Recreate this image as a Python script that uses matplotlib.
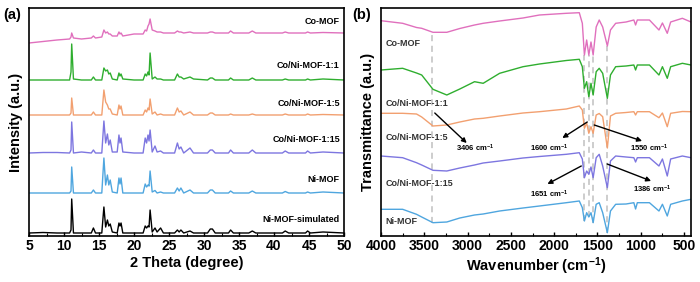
import matplotlib
matplotlib.use("Agg")
import matplotlib.pyplot as plt

plt.rcParams['font.family'] = ['Liberation Sans', 'DejaVu Sans']
plt.rcParams['font.weight'] = 'bold'
plt.rcParams['axes.labelweight'] = 'bold'
plt.rcParams['mathtext.default'] = 'bf'
plt.rcParams['mathtext.fontset'] = 'custom'
plt.rcParams['mathtext.bf'] = 'Liberation Sans:bold'

# ================= DATA (a) XRD =================
two_theta = [5.0, 7.0, 9.0, 10.8, 11.0, 11.1, 11.35, 12.5, 13.9, 14.2,
             14.5, 15.4, 15.7, 15.95, 16.2, 16.4, 16.6, 16.9, 17.6, 17.85,
             18.0, 18.15, 18.4, 20.0, 21.3, 21.6, 21.8, 22.0, 22.15, 22.3,
             22.6, 23.0, 23.3, 23.8, 24.2, 25.8, 26.2, 26.45, 26.7, 27.1,
             28.0, 28.5, 30.5, 30.9, 31.2, 31.6, 33.5, 33.8, 34.2, 36.4,
             36.9, 37.4, 41.2, 41.6, 42.1, 44.5, 44.8, 45.2, 47.0, 50.0]

xrd_names = ["Ni-MOF-simulated", "Ni-MOF", "Co/Ni-MOF-1:15",
             "Co/Ni-MOF-1:5", "Co/Ni-MOF-1:1", "Co-MOF"]
xrd_colors = ["black", "#4fa6df", "#7d76e0", "#f2a070", "#2fae2f", "#e070bd"]
xrd_offsets = [3, 43, 83, 121, 156, 193]

xrd_sim = [0, 0.5, 0, 0, 3, 34, 0, 0, 0, 5, 0, 0, 26, 6, 13, 7, 9, 1, 0, 10,
           7, 10, 0, 0, 0, 7, 5, 7, 6, 23, 1, 5, 1, 5, 0, 0, 3, 1, 3, 0,
           2, 0, 0, 4, 4, 0, 0, 3, 0, 0, 2, 0, 0, 2, 0, 0, 2, 0, 1, 0]
xrd_ni = [0, 0, 0, 0, 2, 26, 0, 0, 0, 3, 0, 0, 35, 8, 18, 8, 13, 1, 0, 15,
          9, 15, 0, 0, 0, 9, 6, 8, 7, 22, 1, 2.5, 0, 1, 0, 0, 5, 2, 5, 0,
          3, 0, 0, 3, 3, 0, 0, 2, 0, 0, 2, 0, 0, 1.5, 0, 0, 1, 0, 1, 0]
xrd_115 = [0, 0.5, 0.5, 0, 3, 31, 0, 1, 0, 3, 0, 0, 32, 10, 19, 8, 13, 1, 1, 18,
           10, 15, 1, 0, 0, 15, 10, 18, 12, 23, 1, 7, 1, 2, 0, 0, 10, 4, 6, 0,
           5, 0, 0, 3, 3, 0, 0, 3, 0, 0, 3, 0, 0, 2, 0, 0, 2, 0, 1, 0]
xrd_15 = [0, 0, 0, 0, 2, 17, 0, 0, 0, 3, 0, 0, 25, 13, 10, 6, 6, 1, 0, 10,
          6, 9, 0, 0, 0, 5, 3, 7, 5, 16, 1, 3, 0, 1, 0, 0, 7, 3, 4, 0,
          3, 0, 0, 2, 2, 0, 0, 1, 0, 0, 1, 0, 0, 1, 0, 0, 1, 0, 0.5, 0]
xrd_11 = [0, 0, 0, 0, 8, 36, 1, 0, 0, 3, 0, 0, 12, 9, 10, 6, 7, 1, 0, 7,
          4, 6, 1, 0, 0, 6, 4, 8, 5, 27, 1, 3, 1, 1, 0, 0, 6, 3, 3, 1,
          3, 1, 0, 2, 2, 0, 0, 2, 0, 0, 2, 0, 0, 1, 0, 0, 1, 0, 1, 0]
xrd_co = [0, 1.5, 3, 4, 6, 10, 5, 4, 5, 7, 5, 6, 13, 10, 11, 9, 9, 7, 7, 11,
          9, 10, 7, 9, 9, 13, 12, 17, 19, 24, 13, 12, 11, 11, 10, 10, 12, 11, 11, 10,
          11, 10, 10, 11, 11, 10, 10, 12, 10, 10, 12, 10, 10, 11, 10, 10, 11, 10, 10.5, 10]
xrd_series = [xrd_sim, xrd_ni, xrd_115, xrd_15, xrd_11, xrd_co]
xrd_label_y = [16, 57, 96, 132, 170, 214]

# ================= DATA (b) FTIR =================
wavenumber = [4000, 3750, 3590, 3530, 3400, 3240, 3090, 2920, 2820, 2630,
              2360, 2170, 1860, 1710, 1675, 1651, 1625, 1600, 1575, 1550,
              1515, 1480, 1440, 1386, 1350, 1290, 1170, 1080, 1060, 1040,
              900, 790, 750, 694, 655, 520, 420]

ir_names = ["Ni-MOF", "Co/Ni-MOF-1:15", "Co/Ni-MOF-1:5", "Co/Ni-MOF-1:1", "Co-MOF"]
ir_colors = ["#4fa6df", "#7d76e0", "#f2a070", "#2fae2f", "#e070bd"]

ir_ni = [26.7, 26.7, 21.7, 19, 13.3, 14, 18, 21, 22, 25,
         28, 30, 33.3, 35, 28.3, 15, 23.3, 19, 23.3, 13.3,
         31.7, 33.3, 23.3, 3.3, 25, 31.7, 32, 33.3, 27, 33.3,
         33.3, 25, 31.7, 20, 31.7, 35, 36.7]
ir_115 = [80, 78.3, 73.3, 71, 65.7, 65, 68, 71, 73, 75,
          78, 79.5, 81.7, 83.3, 77, 58.3, 65, 61.7, 69, 58.3,
          78.3, 81.7, 70, 48.3, 75, 80, 79, 78.3, 74, 78.3,
          78.3, 70, 77, 60, 77, 80, 78.3]
ir_15 = [122.7, 122.7, 122, 119, 110, 111, 114, 117, 117.7, 120,
         123, 124.3, 127, 130, 126, 107.7, 113, 102.7, 109.3, 102.7,
         121, 122.5, 119.3, 88, 120, 122.7, 123.5, 124.3, 121, 124.3,
         124.3, 118.3, 123, 109.3, 122.7, 124.5, 124.3]
ir_11 = [166, 167.7, 163, 161, 146.7, 141, 147, 154.3, 152.7, 162.7,
         169.3, 172, 175.5, 176.7, 169.3, 147.7, 154.3, 139.3, 152.7, 141,
         164.3, 167.7, 162.7, 137.7, 161, 169.3, 170, 171, 166, 171,
         171, 161, 169.3, 157.7, 169.3, 172.7, 171]
ir_co = [215.3, 212.7, 208.5, 207.7, 203.7, 203.7, 207.5, 211, 212.7, 215,
         218, 221, 222.7, 223.3, 212.7, 181, 196, 181, 194, 181,
         209, 216, 209, 190, 206, 212.7, 214, 216, 211, 216,
         216, 206, 213, 202.7, 214, 217.7, 214]
ir_series = [ir_ni, ir_115, ir_15, ir_11, ir_co]
ir_label_y = [15, 52, 99, 133, 193]

# dashed guide lines: wavenumber, bottom, top
guide_w = [3406, 1651, 1600, 1550, 1386]
guide_lo = [13, 15, 19, 13, 3]
guide_hi = [203, 181, 181, 181, 190]

# annotations: text, text position, arrow start, arrow end
ann_text = ["3406 cm$^{-1}$", "1600 cm$^{-1}$", "1550 cm$^{-1}$",
            "1651 cm$^{-1}$", "1386 cm$^{-1}$"]
ann_xy = [(2918, 88), (2055, 88), (904, 88), (2055, 42), (870, 47)]
ann_from = [(3379, 123), (1618, 114), (1537, 111), (1687, 70), (1388, 72)]
ann_to = [(3010, 93), (1906, 98), (985, 95), (2078, 52), (881, 55)]

# ================= PLOT =================
fig = plt.figure(figsize=(7.0, 2.82), dpi=100)
ax1 = fig.add_axes([29/700, 46/282, 315/700, 228/282])
ax2 = fig.add_axes([381/700, 46/282, 310/700, 228/282])

for ax in (ax1, ax2):
    for s in ax.spines.values():
        s.set_linewidth(1.2)
    ax.set_yticks([])
    ax.set_ylim(0, 228)
    ax.tick_params(axis='x', labelsize=10, width=1.0, length=3, direction='in', pad=2)
    ax.tick_params(axis='x', which='minor', width=0.8, length=2, direction='in')

# (a)
for ys, off, c in zip(xrd_series, xrd_offsets, xrd_colors):
    ax1.plot(two_theta, [v + off for v in ys], color=c, lw=1.0)
for name, y in zip(xrd_names, xrd_label_y):
    ax1.text(49.4, y, name, ha='right', va='center', fontsize=6.5, fontweight='bold')
ax1.set_xlim(5, 50)
ax1.set_xticks(range(5, 51, 5))
ax1.set_xticks([7.5 + 5*i for i in range(9)], minor=True)
ax1.set_xlabel("2 Theta (degree)", fontsize=10.5, labelpad=2)
ax1.set_ylabel("Intensity (a.u.)", fontsize=10.5, labelpad=4)
fig.text(3/700, 1 - 15/282, "(a)", fontsize=10.5, fontweight='bold', va='center')

# (b)
for w, lo, hi in zip(guide_w, guide_lo, guide_hi):
    ax2.plot([w, w], [lo, hi], color='#c0c0c0', lw=1.1, ls=(0, (4, 3)))
for ys, c in zip(ir_series, ir_colors):
    ax2.plot(wavenumber, ys, color=c, lw=1.0)
for name, y in zip(ir_names, ir_label_y):
    ax2.text(3950, y, name, ha='left', va='center', fontsize=6.5, fontweight='bold',
             color='#333333')
for t, xy, p0, p1 in zip(ann_text, ann_xy, ann_from, ann_to):
    ax2.annotate("", xy=p1, xytext=p0,
                 arrowprops=dict(arrowstyle='-|>', color='black', lw=1.0,
                                 mutation_scale=7, shrinkA=0, shrinkB=0))
    ax2.text(xy[0], xy[1], t, ha='center', va='center', fontsize=5.5, fontweight='bold')
ax2.set_xlim(4000, 420)
ax2.set_xticks(range(4000, 499, -500))
ax2.set_xticks(range(3750, 499, -500), minor=True)
ax2.set_xlabel("Wavenumber (cm$^{-1}$)", fontsize=10.5, labelpad=2)
ax2.set_ylabel("Transmittance (a.u.)", fontsize=10.5, labelpad=4)
fig.text(352/700, 1 - 15/282, "(b)", fontsize=10.5, fontweight='bold', va='center')

fig.savefig("out.png", dpi=100)
